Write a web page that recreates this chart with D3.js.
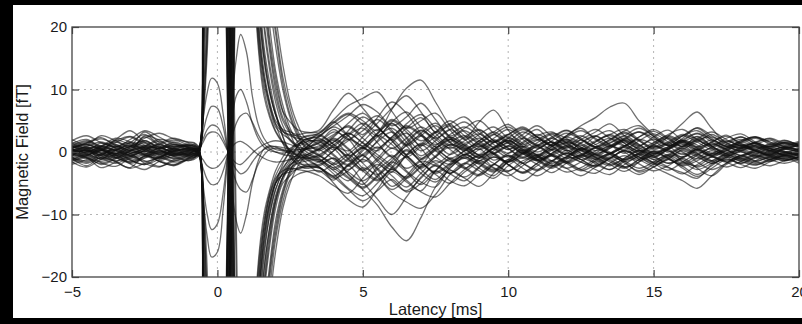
<!DOCTYPE html>
<html><head><meta charset="utf-8">
<script src="https://cdn.jsdelivr.net/npm/d3@7"></script>
<style>html,body{margin:0;padding:0;background:#000;overflow:hidden}svg{display:block}</style>
</head><body>
<svg id="chart" width="802" height="324"></svg>
<script>
// Latency samples (ms)
const latency = [-5,-4.5,-4,-3.5,-3,-2.5,-2,-1.5,-1,
  -0.8,-0.65,-0.5,-0.35,-0.2,0,0.2,0.35,0.5,0.65,0.8,1,1.2,1.4,1.6,1.8,2,2.25,2.5,2.75,3,
  3.5,4,4.5,5,5.5,6,6.5,7,7.5,8,8.5,9,9.5,10,10.5,11,11.5,12,12.5,13,13.5,14,14.5,15,15.5,16,16.5,17,17.5,18,18.5,19,19.5,20];

// Magnetic field per channel (fT)
const ch01 = [0.5,-0.8,0.3,1.2,0.2,1.8,0.4,-0.6,0.1,
  0.6,0.3,30,75,95,90,60,15,-35,-75,-85,-70,-38,-20,-12,-7,-4.5,-2.5,-1.2,-0.5,0.4,
  1.5,3.2,2.1,-0.5,1.8,4.5,2.2,-1.0,0.6,2.3,1.1,-0.4,1.5,2.4,0.8,-0.6,1.2,2.0,0.5,1.6,2.8,1.4,0.2,1.1,2.2,0.9,2.5,1.0,-0.3,0.8,1.4,0.3,0.9,0.2];
const ch02 = [-0.6,0.4,-1.2,-0.3,0.9,0.2,-1.0,0.5,-0.4,
  0.3,-0.2,12,40,75,85,65,40,5,-40,-75,-75,-50,-30,-19,-12,-7.5,-4,-2.6,-1.8,-1.5,
  -1.2,-2.5,-1.0,0.8,-1.5,-3.2,-0.4,1.2,-0.8,-2.0,-0.6,0.5,-1.3,-0.2,0.9,-0.5,-1.4,0.3,-0.8,-1.6,-0.2,0.7,-1.1,-0.5,0.4,-1.5,-2.2,-0.7,0.2,-0.9,-0.3,0.5,-0.6,-0.2];
const ch03 = [1.3,2.0,0.8,1.5,2.4,1.1,0.6,1.6,0.9,
  1.2,0.6,6,18,45,75,70,50,20,-20,-60,-80,-60,-40,-27,-18,-11,-6,-3,-1.2,0.5,
  2.0,0.6,-1.5,0.5,2.6,1.2,-0.8,0.9,3.1,4.5,2.2,4.8,6.7,3.5,1.2,2.4,1.0,-0.2,1.5,2.6,1.1,0.4,1.8,2.9,1.6,0.5,1.9,2.4,1.2,0.7,1.5,0.9,1.8,1.0];
const ch04 = [-1.5,-0.8,-2.0,-1.1,-0.3,-1.8,-2.4,-1.2,-0.7,
  -0.5,0.2,40,90,110,100,65,20,-40,-90,-100,-85,-45,-25,-14,-8,-5,-3.5,-2.8,-2.6,-2.4,
  -2.6,-4.2,-3.0,-1.2,-2.8,-5.5,-3.8,-1.5,-2.2,-3.4,-1.8,-0.6,-2.5,-3.1,-1.4,-0.8,-2.2,-1.5,-0.5,-1.9,-2.8,-1.2,-0.4,-1.7,-2.5,-3.3,-4.2,-2.0,-1.1,-1.8,-0.9,-1.5,-0.6,-1.0];
const ch05 = [0.2,1.1,0.5,-0.4,0.8,3.2,1.5,0.3,0.6,
  0.4,0.1,20,55,88,88,58,28,-18,-60,-85,-78,-48,-28,-17,-10,-6,-3.2,-1.4,0.8,2.0,
  2.5,4.8,6.2,5.0,3.4,6.8,10.2,11.5,8.0,4.2,2.0,3.5,1.8,0.4,2.2,3.6,1.5,0.6,2.0,3.2,4.5,2.6,1.0,2.4,3.5,1.8,0.8,1.6,2.7,1.2,0.4,1.3,0.6,1.1];
const ch06 = [-0.3,0.6,-0.5,0.9,-0.2,0.4,-0.8,0.2,-0.1,
  0.1,0.4,18,55,82,88,72,48,12,-38,-70,-82,-62,-44,-30,-20,-13,-7,-3.5,-1.6,-0.6,
  0.5,1.8,-0.5,-2.8,-1.0,1.5,3.0,0.6,-1.8,-0.4,1.2,-0.5,0.6,1.8,0.2,-1.2,0.3,1.5,0.7,-0.6,0.8,1.9,0.4,-0.8,0.5,1.6,0.2,-0.5,0.6,1.3,0.2,-0.4,0.5,0.1];
const ch07 = [0.9,0.2,1.4,0.6,-0.5,0.8,1.7,0.5,1.0,
  0.9,0.5,34,82,100,92,58,12,-42,-82,-92,-72,-36,-18,-10,-6,-3,-0.8,0.6,1.2,1.6,
  1.8,0.4,2.6,3.8,1.5,-0.8,1.6,3.5,2.0,0.6,1.8,2.9,1.2,-0.2,1.4,2.6,3.2,1.5,0.3,1.6,2.8,3.6,2.0,0.8,2.5,4.6,6.4,3.8,1.6,2.4,1.3,0.6,1.4,0.8];
const ch08 = [-1.0,-2.2,-0.9,-1.6,-2.5,-0.6,-1.4,-2.0,-1.1,
  -0.8,-0.3,9,28,60,80,62,34,-6,-50,-76,-78,-55,-35,-23,-15,-9,-5,-3.8,-2.6,-2.2,
  -2.0,-1.0,-3.5,-5.2,-2.4,-0.5,-3.0,-4.8,-5.6,-2.5,-1.0,-2.6,-3.8,-1.5,0.2,-1.2,-2.4,-1.0,0.4,-0.8,-2.0,-3.1,-1.6,0.1,-1.1,-2.3,-3.6,-2.2,-0.8,-1.5,-2.1,-1.2,-0.5,-1.3];
const ch09 = [0.6,1.5,2.3,1.0,0.2,2.6,1.9,0.8,1.2,
  1.0,0.8,28,72,96,92,50,6,-45,-80,-86,-74,-42,-24,-15,-9,-5,-2,0.2,1.6,2.5,
  3.0,5.2,7.4,8.6,9.6,6.5,3.8,5.0,6.2,3.5,1.4,2.8,4.0,2.2,0.8,1.9,3.0,2.2,1.0,2.5,3.4,1.8,0.6,1.5,2.8,3.6,2.0,1.1,2.2,2.9,1.6,0.8,1.5,1.2];
const ch10 = [0.0,-0.6,0.8,1.6,0.5,-0.3,0.7,1.3,0.4,
  0.5,0.2,15,45,80,90,68,36,0,-48,-80,-80,-54,-33,-21,-13,-8,-4.5,-2.2,-0.9,0.3,
  1.0,2.6,4.2,2.8,5.5,8.0,6.2,3.0,1.2,2.8,4.0,2.5,0.8,1.6,3.2,2.0,0.4,1.5,2.6,1.2,-0.2,1.0,2.4,3.6,2.2,0.8,1.6,2.8,1.5,0.5,1.2,1.9,0.8,0.4];
const ch11 = [-2.0,-1.2,-0.4,-1.5,-2.6,-1.8,-0.9,-1.6,-1.3,
  -1.2,-0.6,8,22,60,80,66,38,-8,-52,-70,-82,-65,-46,-32,-22,-14,-8,-4.5,-3.6,-3.2,
  -3.0,-4.5,-2.0,-0.5,-3.5,-6.0,-4.2,-2.0,-3.6,-5.0,-3.2,-1.5,-0.2,-2.0,-3.4,-2.2,-0.6,-1.8,-3.0,-2.0,-0.8,-1.6,-3.2,-2.4,-1.0,-0.2,-1.6,-2.8,-1.8,-0.6,-1.5,-2.2,-1.4,-0.8];
const ch12 = [0.4,-0.2,-1.0,0.3,1.0,-0.5,-0.9,0.0,0.6,
  0.3,0.0,32,78,98,92,54,10,-40,-78,-88,-72,-40,-22,-13,-8,-5,-3.6,-3.2,-2.8,-2.4,
  -2.5,-5.0,-7.6,-8.8,-6.0,-3.2,-4.8,-6.2,-3.0,-1.2,-2.6,-3.8,-2.0,-0.5,-1.8,-3.0,-1.6,-0.2,-1.2,-2.4,-1.0,0.2,-0.8,-2.0,-1.2,0.4,-0.6,-1.8,-0.9,0.0,-0.8,-0.2,-0.9,-0.4];
const ch13 = [1.6,0.8,0.2,1.9,1.2,0.6,1.4,2.2,1.5,
  1.4,0.9,24,66,96,96,70,42,8,-44,-90,-80,-44,-24,-14,-8.5,-5,-2.8,-0.8,0.9,2.0,
  2.2,1.0,3.4,5.6,4.0,2.2,4.5,6.0,3.8,1.6,0.4,1.8,3.2,4.4,2.6,1.2,2.4,3.5,2.2,0.8,1.5,2.6,3.8,2.5,1.0,2.2,3.9,2.6,1.4,0.6,1.5,2.1,1.2,1.7];
const ch14 = [-0.4,0.5,1.0,0.2,-0.7,0.3,0.9,-0.2,0.2,
  0.2,-0.4,-28,-70,-90,-85,-55,-15,35,72,84,66,36,19,11,7,4,2.8,2.0,1.0,-0.5,
  -1.5,0.2,2.0,0.8,-1.2,-2.8,-0.6,1.4,0.2,-1.5,-0.4,1.0,-0.3,-1.6,-0.2,1.1,0.3,-1.0,-0.5,0.8,0.0,-1.2,-0.4,0.9,0.2,-0.8,0.5,1.4,0.4,-0.5,0.3,0.9,0.1,-0.3];
const ch15 = [1.0,1.8,0.9,0.4,1.5,2.8,1.2,0.6,1.1,
  0.9,0.4,-10,-36,-70,-86,-66,-42,-4,44,78,78,56,36,24,16,10,5.5,3.4,2.4,1.6,
  0.2,1.6,3.0,1.5,0.2,2.4,4.0,2.6,0.8,2.0,3.4,1.8,0.5,2.2,3.6,2.4,1.0,2.6,4.2,5.5,7.2,7.8,5.0,2.8,1.4,2.6,3.8,2.2,0.9,1.8,2.4,1.2,0.7,1.4];
const ch16 = [-0.8,-1.6,-0.5,0.3,-1.2,-2.0,-0.8,-0.2,-0.6,
  -0.6,-0.2,-34,-80,-98,-90,-58,-12,40,80,90,70,38,20,12,7.5,4.5,1.4,-0.8,-2.0,-2.6,
  -2.5,-4.0,-2.2,-4.8,-7.5,-10.0,-7.2,-4.0,-2.2,-3.5,-4.6,-2.5,-0.8,-2.0,-3.3,-1.8,-0.4,-1.5,-2.8,-3.4,-1.8,-0.6,-1.9,-3.0,-2.2,-1.0,-2.6,-3.8,-2.0,-1.0,-1.6,-0.8,-1.4,-0.9];
const ch17 = [0.3,-0.5,0.4,-0.9,0.1,0.7,-0.3,0.6,0.0,
  0.1,0.3,-16,-50,-78,-84,-66,-36,10,54,72,84,72,54,38,26,20,12,7,3.5,1.6,
  0.4,2.2,0.6,-1.6,0.3,2.0,-0.5,-2.4,-0.8,1.2,0.4,-0.9,0.8,1.9,0.5,-0.6,0.9,2.0,1.2,-0.2,0.6,1.6,0.3,-0.9,0.4,1.3,-0.2,-1.4,-0.2,0.7,0.2,-0.5,0.4,0.0];
const ch18 = [-1.2,-0.5,-1.7,-2.3,-1.0,-0.4,-1.5,-2.1,-1.0,
  -0.9,-0.5,-25,-66,-88,-86,-50,-8,38,74,82,72,46,28,17,11,6.5,2.5,0.0,-1.4,-2.2,
  -2.2,-1.0,-3.6,-6.0,-8.5,-12.0,-14.2,-10.5,-5.6,-3.0,-4.2,-5.5,-3.4,-1.2,-2.6,-3.8,-2.4,-0.8,-1.6,-2.8,-3.6,-2.0,-0.8,-1.8,-2.9,-1.6,-0.4,-1.4,-2.4,-1.5,-0.6,-1.2,-1.8,-1.1];
const ch19 = [0.7,1.4,2.1,1.2,0.3,1.0,2.0,1.5,0.8,
  0.6,0.2,-7,-25,-58,-82,-64,-38,0,50,82,68,40,24,15,9.5,6,3.4,2.6,2.2,2.0,
  1.8,3.6,2.0,4.2,5.8,3.5,1.2,3.0,4.6,2.4,0.6,1.8,3.2,1.6,0.2,1.5,2.8,1.4,0.3,1.2,2.2,1.0,-0.2,1.4,2.6,1.5,0.4,1.6,2.5,1.4,0.6,1.2,1.9,1.0];
const ch20 = [-0.2,0.3,-0.6,-1.4,-0.7,0.2,-0.4,-1.0,-0.5,
  -0.4,0.0,-20,-56,-82,-86,-70,-46,-12,36,70,80,62,42,29,20,13,7.5,3.8,1.6,0.2,
  -1.0,-2.8,-1.2,0.6,-0.8,-2.5,-4.0,-2.2,0.2,-1.2,-2.6,-1.0,0.5,-0.6,-1.8,-0.9,0.4,-0.5,-1.6,-2.2,-1.0,0.2,-1.2,-2.4,-3.5,-4.6,-5.8,-3.8,-1.8,-0.6,-1.4,-0.8,-0.2,-0.7];
const ch21 = [0.5,0.0,0.9,2.0,3.4,1.6,0.5,1.1,0.7,
  0.5,0.1,-32,-78,-96,-88,-56,-14,36,74,84,68,40,22,13,8,5,3.6,3.2,2.8,3.0,
  3.5,6.8,9.4,7.0,4.2,2.0,3.8,5.5,3.0,1.0,2.4,3.6,1.8,0.4,1.6,2.8,1.6,0.2,1.4,2.5,1.2,-0.2,0.9,2.0,1.0,-0.4,0.8,1.9,0.9,0.2,1.0,0.5,-0.1,0.6];
const ch22 = [-0.9,-0.2,0.5,-0.4,-1.3,-0.7,0.2,-0.5,-0.3,
  -0.2,0.2,-13,-42,-76,-86,-62,-30,14,56,80,74,50,32,20,13,8,4.2,2,0.7,-0.2,
  -0.8,0.8,-1.0,-3.0,-4.6,-2.4,0.4,-1.6,-3.2,-1.8,0.2,1.2,-0.4,-1.5,-0.2,1.0,-0.6,-1.8,-0.8,0.6,-0.4,-1.5,-0.6,0.7,1.2,0.0,-1.1,-0.3,0.8,0.1,-0.6,0.2,0.7,0.2];
const ch23 = [1.2,0.5,-0.2,0.8,1.6,0.9,0.0,0.7,1.3,
  1.1,0.6,-26,-68,-90,-86,-56,-18,32,70,82,70,43,25,15,9.5,6,3.4,1.8,1.0,1.4,
  2.8,1.2,0.2,2.4,4.6,7.0,9.0,6.4,3.2,4.5,5.6,3.4,1.5,2.8,4.0,2.4,1.0,2.6,3.8,2.0,0.8,2.2,3.2,1.8,0.6,1.8,2.9,1.6,0.5,1.5,2.2,1.4,0.6,1.2];
const ch24 = [-1.6,-2.4,-1.2,-0.5,-1.9,-2.8,-1.5,-0.8,-1.4,
  -1.0,-0.4,-36,-84,-102,-94,-60,-16,38,82,92,70,36,18,10,6,3.4,1.6,0.4,-0.6,-1.5,
  -3.2,-1.8,-0.4,-2.6,-4.4,-2.8,-4.5,-6.4,-7.2,-5.0,-2.8,-1.4,-2.6,-3.8,-2.2,-0.8,-2.0,-3.2,-2.5,-1.2,-0.4,-1.8,-3.0,-2.0,-0.6,-1.6,-2.8,-1.8,-0.5,-1.2,-2.0,-1.4,-0.7,-1.5];
const ch25 = [0.0,0.8,0.3,-0.6,0.2,1.0,0.4,-0.4,0.3,
  0.4,0.6,-6,-19,-55,-80,-70,-44,-8,40,70,84,74,58,42,30,22,14,8,4.5,2.4,
  1.2,-0.6,-2.2,-0.4,1.6,3.2,1.0,-1.2,0.4,2.0,0.8,-0.8,0.6,2.2,1.0,-0.4,0.8,1.8,0.4,-0.8,0.6,1.8,0.7,-0.6,0.4,1.6,2.4,0.9,-0.3,0.5,1.0,0.2,-0.4,0.3];
const ch26 = [2.0,1.2,2.6,1.8,0.9,2.2,3.0,2.1,1.6,
  1.5,0.8,-18,-54,-80,-86,-62,-28,20,60,78,78,58,38,26,17,11,6.5,4.8,3.6,3.2,
  3.2,4.8,2.6,0.6,2.8,5.0,3.2,1.0,2.5,4.2,2.6,0.8,2.2,3.6,2.0,0.6,1.8,3.0,2.0,0.8,2.0,3.4,4.2,2.5,1.2,2.6,3.4,1.9,0.8,1.6,2.4,1.6,0.9,1.5];
const ch27 = [0.8,1.6,0.6,-0.2,0.9,1.8,0.7,0.2,0.5,
  0.3,0.2,5,9.5,11.8,11,6,0.5,-6,-11,-13,-10,-5,-1.5,0.5,1.0,0.8,0.4,0.2,0.0,0.3,
  1.6,-0.4,-2.0,0.2,2.4,3.8,1.6,-0.6,1.0,2.4,1.0,-0.5,0.6,1.8,0.4,-0.8,0.5,1.6,0.8,-0.4,0.9,2.0,1.0,-0.3,0.6,1.8,0.8,-0.4,0.4,1.2,0.4,-0.2,0.6,0.3];
const ch28 = [-0.5,0.2,-0.9,-1.8,-0.8,0.1,-0.6,-1.4,-0.6,
  -0.2,0.0,3,5.8,7.3,7,4,0.3,-2.5,-4.8,-6,-6.4,-4.5,-2.0,-0.5,0.4,0.6,0.3,0.0,-0.3,-0.6,
  -1.4,-3.0,-4.6,-2.5,-4.0,-6.5,-8.0,-9.0,-6.8,-3.6,-1.8,-3.0,-4.2,-2.2,-0.9,-2.0,-3.3,-1.8,-0.5,-1.6,-2.8,-1.5,-0.3,-1.2,-2.4,-3.5,-2.0,-0.8,-1.6,-2.5,-1.4,-0.6,-1.2,-0.8];
const ch29 = [-1.2,-0.4,0.3,-0.6,-1.6,-0.9,0.0,-0.7,-0.4,
  0.1,-0.2,-5,-10,-12.4,-11.5,-6.5,-0.5,5,9,10,8,4.6,2.2,0.8,0.2,0.0,-0.2,0.1,0.3,0.5,
  0.8,2.4,4.6,6.2,4.0,1.8,-0.4,1.2,3.2,1.5,-0.4,0.8,2.0,0.6,-1.0,0.4,1.6,0.2,-1.2,-0.2,1.0,0.0,-1.4,-0.4,0.8,1.8,0.6,-0.8,0.2,1.0,0.2,-0.6,0.0,-0.4];
const ch30 = [0.4,-0.3,-1.1,0.2,0.8,-0.1,-0.7,0.4,0.2,
  -0.3,-0.4,-7,-13.5,-16.8,-16,-9,-1,8,15,18.8,16,9,4.5,2.2,1.0,0.4,0.2,-0.2,-0.5,-0.8,
  -1.6,-3.5,-5.8,-7.0,-5.0,-2.6,-0.8,-2.8,-4.4,-2.2,-0.4,-1.8,-3.0,-1.5,0.0,-1.2,-2.2,-0.8,0.6,-0.4,-1.6,-2.6,-1.2,0.2,-0.6,-1.8,-0.5,0.6,-0.3,-1.2,-0.4,0.3,-0.5,-0.2];
const ch31 = [1.8,2.6,1.5,0.8,2.0,3.4,2.4,1.2,1.0,
  0.6,0.5,2,3.6,4.3,4,2.2,0.4,-1.4,-2.8,-3.5,-3.0,-1.6,-0.4,0.4,0.8,0.9,0.7,0.5,0.4,0.6,
  2.6,4.2,5.8,7.6,6.4,4.2,5.6,7.8,5.2,2.6,3.8,5.0,3.0,1.5,2.8,4.2,2.5,1.2,2.4,3.6,2.2,1.0,2.4,3.3,2.0,0.9,2.1,3.2,2.0,1.0,1.6,2.2,1.4,0.9];
const ch32 = [-1.8,-1.0,-2.5,-1.6,-0.6,-1.4,-2.3,-1.5,-1.0,
  -0.5,-0.6,-2.5,-4.4,-5.2,-5,-3,-0.4,2.4,4.6,5.8,6.2,4.8,2.8,1.3,0.5,0.0,-0.4,-0.6,-0.8,-0.9,
  -2.4,-4.0,-6.0,-7.8,-6.2,-4.4,-6.4,-5.0,-3.0,-4.6,-5.4,-3.6,-2.0,-3.4,-4.6,-3.0,-1.4,-2.6,-3.8,-2.4,-1.0,-2.4,-3.6,-2.4,-1.2,-2.6,-3.9,-2.6,-1.2,-2.0,-2.6,-1.6,-1.0,-1.8];
const ch33 = [0.2,0.9,1.6,0.7,-0.2,0.5,1.2,0.4,0.3,
  0.4,0.2,6,20,55,88,64,30,-14,-58,-82,-84,-58,-36,-22,-14,-8,-4,-1.8,-0.4,0.6,
  1.4,2.8,4.0,2.2,0.6,2.4,4.2,2.8,0.4,1.6,2.6,1.2,-0.2,1.0,2.2,1.0,-0.4,0.8,1.9,0.8,-0.2,0.9,2.0,1.2,0.0,1.0,2.1,0.9,-0.1,0.6,1.4,0.6,0.0,0.5];
const ch34 = [-0.9,-1.4,-0.3,0.4,-0.6,-1.5,-0.9,0.1,-0.5,
  -0.3,-0.1,26,68,94,94,60,22,-28,-70,-90,-78,-46,-27,-16,-10,-6,-3.4,-2.0,-1.4,-1.2,
  -0.6,0.8,-1.2,-3.0,-1.4,0.6,-1.0,-3.4,-4.8,-2.6,-0.8,-2.0,-3.2,-1.6,-0.2,-1.4,-2.6,-1.2,0.2,-0.9,-2.0,-1.0,0.3,-0.6,-1.8,-1.0,0.4,-0.7,-1.6,-0.8,0.0,-0.8,-1.4,-0.7];
const ch35 = [1.0,0.3,-0.4,0.6,1.4,0.7,-0.1,0.9,0.8,
  0.7,0.4,5,16,40,70,72,56,30,-12,-52,-82,-68,-48,-34,-24,-16,-9,-5,-2.4,-0.8,
  0.6,2.0,0.4,-1.8,-3.6,-1.4,1.2,3.4,1.6,-0.4,1.0,2.2,0.6,-0.8,0.8,2.0,0.9,-0.5,0.6,1.8,2.6,1.4,0.0,1.2,2.4,1.2,-0.2,0.8,1.8,0.9,0.2,1.0,1.5,0.6];
const ch36 = [-0.4,-1.0,-1.8,-0.9,0.0,-0.6,-1.5,-2.2,-1.2,
  -0.9,-0.5,38,86,106,98,60,14,-40,-86,-96,-82,-42,-22,-12,-7,-4.2,-3.0,-2.6,-2.8,-3.0,
  -3.8,-5.4,-6.6,-4.2,-2.0,-3.8,-5.6,-3.4,-1.4,-2.8,-4.0,-2.4,-0.8,-2.0,-3.2,-1.8,-0.6,-1.6,-2.8,-1.4,-0.2,-1.4,-2.6,-1.6,-0.4,-1.2,-2.4,-1.4,-0.4,-1.0,-1.8,-1.2,-0.6,-1.2];
const ch37 = [0.6,1.3,0.5,1.8,2.5,1.4,0.6,1.2,0.7,
  0.5,0.3,12,36,70,86,66,36,-4,-50,-78,-82,-60,-42,-28,-19,-12,-6.5,-3,-0.6,1.0,
  2.4,4.0,2.6,1.0,3.0,5.2,3.6,1.8,3.2,5.0,3.2,1.6,2.8,4.0,2.4,1.0,2.2,3.4,2.0,0.8,1.8,3.0,1.8,0.6,1.6,2.8,2.0,0.8,1.6,2.4,1.4,0.8,1.6,1.1];
const ch38 = [-1.4,-0.6,0.2,-0.8,-1.8,-1.0,-0.2,-1.1,-0.9,
  -0.6,-0.2,22,62,90,92,62,26,-22,-66,-86,-80,-52,-31,-19,-12,-7,-4,-2.2,-1.0,-0.4,
  -1.2,-2.6,-4.2,-5.8,-4.0,-1.8,0.2,-1.6,-3.4,-2.0,-0.4,-1.6,-2.8,-1.2,0.4,-0.6,-1.8,-0.8,0.6,-0.4,-1.4,-2.4,-1.2,0.0,-0.9,-2.0,-1.0,0.2,-0.6,-1.4,-0.8,0.0,-0.6,-0.3];
const ch39 = [0.3,-0.4,0.2,1.0,0.4,2.4,1.0,-0.2,0.1,
  0.2,0.0,36,84,102,94,56,8,-46,-84,-94,-74,-38,-19,-11,-6.5,-3.8,-1.6,0.0,1.2,1.8,
  2.6,1.2,-0.6,0.8,3.0,4.6,2.4,0.2,1.8,3.6,2.0,0.4,1.6,2.8,1.4,0.0,1.2,2.4,1.4,0.2,1.0,2.2,1.2,0.0,0.8,1.9,1.1,-0.2,0.6,1.6,0.8,0.0,0.6,1.0];
const ch40 = [0.5,1.2,0.4,-0.3,0.6,1.5,0.8,0.0,0.4,
  0.3,0.0,-8,-24,-60,-88,-60,-26,22,64,82,76,52,33,21,14,9,5,3.0,1.8,1.2,
  0.4,-1.2,-2.8,-1.0,0.8,-0.8,-2.6,-1.2,0.6,2.0,0.6,-1.0,0.2,1.4,0.0,-1.2,-0.2,1.0,0.2,-1.0,-0.2,1.0,0.0,-1.2,-0.4,0.8,1.8,0.6,-0.6,0.2,0.8,0.2,-0.4,0.1];
const ch41 = [-0.7,0.0,0.6,-0.2,-1.0,-0.4,0.5,0.0,-0.3,
  -0.2,0.1,-9,-30,-64,-84,-66,-40,-2,46,76,82,64,46,33,24,17,10,5.5,2.6,0.8,
  -0.6,-2.0,-0.4,1.6,3.6,1.8,-0.6,-2.6,-0.8,0.8,-0.6,-1.8,-0.4,0.9,-0.3,-1.4,-0.2,1.0,-0.2,-1.2,-0.4,0.8,-0.4,-1.6,-0.6,0.6,-0.4,-1.5,-0.6,0.4,-0.3,-1.0,-0.2,-0.6];
const ch42 = [1.4,0.6,1.0,2.2,1.6,0.4,1.2,1.9,1.1,
  0.8,0.3,-30,-76,-96,-90,-56,-12,40,78,86,68,38,21,12,7.5,4.5,3.2,2.8,2.6,2.4,
  3.0,4.6,6.0,4.4,2.6,4.8,6.4,4.0,2.2,3.6,4.8,3.0,1.6,2.8,3.8,2.4,1.2,2.4,3.4,2.2,1.0,2.0,3.2,2.2,1.0,2.0,3.0,2.0,1.0,1.8,2.4,1.6,1.0,1.5];
const ch43 = [-1.1,-1.8,-0.8,-0.2,-1.3,-2.0,-1.2,-0.4,-0.8,
  -0.7,-0.3,-18,-52,-82,-88,-64,-32,16,60,80,80,60,40,27,18,12,6.5,3.0,0.4,-1.0,
  -2.4,-3.8,-2.2,-0.6,-2.6,-4.6,-6.2,-4.2,-2.0,-3.4,-2.0,-0.6,-1.8,-3.0,-1.8,-0.4,-1.4,-2.6,-1.6,-0.4,-1.2,-2.4,-1.6,-0.2,-1.0,-2.2,-1.4,-0.2,-0.8,-1.8,-1.0,-0.4,-1.2,-0.8];
const ch44 = [0.0,0.7,-0.2,-1.0,-0.3,0.8,0.2,-0.6,-0.1,
  0.1,0.2,-36,-82,-100,-92,-58,-10,42,82,88,66,34,17,9,5.5,3.2,1.4,0.2,-0.6,-1.0,
  -0.4,1.2,2.8,4.6,2.6,0.6,2.2,4.0,2.4,0.4,-1.0,0.4,1.8,0.6,-0.8,0.4,1.6,0.4,-0.8,0.2,1.4,2.6,1.2,-0.2,0.6,1.6,0.4,-0.6,0.2,1.0,0.2,-0.4,0.4,0.0];
const ch45 = [0.9,0.1,-0.6,0.3,1.1,0.5,-0.4,0.2,0.6,
  0.5,0.3,-14,-44,-76,-86,-68,-44,-6,42,74,84,70,52,37,26,19,11,6,3.0,1.0,
  -0.4,-2.2,-4.0,-5.6,-3.8,-1.6,-3.2,-5.2,-3.0,-1.0,-2.4,-3.6,-2.0,-0.6,-1.8,-2.8,-1.4,-0.2,-1.2,-2.2,-1.0,0.2,-0.8,-1.8,-0.8,0.2,-0.8,-1.8,-0.8,0.2,-0.6,-1.2,-0.4,-0.2];
const ch46 = [-0.2,-0.9,-1.5,-0.6,0.2,-0.3,-1.1,-0.4,-0.2,
  -0.1,-0.2,-26,-70,-92,-88,-56,-18,32,72,84,72,44,26,16,10,6,2.4,-0.4,-1.8,-2.0,
  -1.6,0.2,1.8,3.4,5.2,3.2,1.0,2.6,4.2,2.2,0.2,1.4,2.8,1.4,-0.2,1.0,2.2,1.0,-0.4,0.8,2.0,3.2,1.8,0.4,1.4,2.6,1.6,0.4,1.2,2.0,1.0,0.2,0.8,0.4];
const ch47 = [0.3,0.0,0.8,0.2,-0.5,0.1,0.6,0.9,0.4,
  0.3,0.4,1.5,2.8,3.2,3.0,1.6,0.2,-1.0,-1.8,-2.0,-1.2,-0.2,0.6,1.2,1.6,1.8,1.6,1.2,0.8,0.5,
  -0.6,-1.8,-3.2,-4.6,-2.8,-1.0,1.0,2.6,0.8,-1.0,0.2,1.4,-0.2,-1.6,-0.4,0.8,-0.4,-1.6,-0.6,0.6,-0.2,-1.2,-0.2,1.0,0.2,-0.8,0.2,1.2,0.4,-0.6,0.0,0.6,0.0,-0.4];
const ch48 = [-0.6,0.3,-0.1,-0.9,-1.6,-0.7,0.2,-0.3,-0.5,
  -0.4,-0.5,-1.2,-2.2,-2.6,-2.4,-1.3,-0.2,0.8,1.5,1.7,1.2,0.4,-0.4,-1.0,-1.4,-1.6,-1.5,-1.2,-1.0,-0.9,
  0.4,1.6,3.0,1.4,-0.4,-2.2,-4.2,-2.4,-0.6,1.2,0.0,-1.4,-0.2,1.0,-0.2,-1.4,-0.4,0.8,-0.2,-1.2,-2.2,-1.0,0.2,-0.8,-1.8,-0.8,0.4,-0.6,-1.4,-0.6,0.2,-0.6,-1.0,-0.5];

const channels = [ch01,ch02,ch03,ch04,ch05,ch06,ch07,ch08,ch09,ch10,ch11,ch12,ch13,ch14,ch15,ch16,
  ch17,ch18,ch19,ch20,ch21,ch22,ch23,ch24,ch25,ch26,ch27,ch28,ch29,ch30,ch31,ch32,
  ch33,ch34,ch35,ch36,ch37,ch38,ch39,ch40,ch41,ch42,ch43,ch44,ch45,ch46,ch47,ch48];

const xTicks = [-5,0,5,10,15,20];
const yTicks = [-20,-10,0,10,20];
const xLabel = "Latency [ms]";
const yLabel = "Magnetic Field [fT]";

const svg = d3.select("#chart");
svg.append("rect").attr("x",13).attr("y",5).attr("width",789).attr("height",313).attr("fill","#fff");

const L = 72, R = 799, T = 27, B = 277;
const x = d3.scaleLinear().domain([-5,20]).range([L,R]);
const y = d3.scaleLinear().domain([-20,20]).range([B,T]);

// grid
const grid = svg.append("g").attr("stroke","#b4b4b4").attr("stroke-width",1).attr("stroke-dasharray","2,4");
xTicks.slice(1,-1).forEach(v=>grid.append("line").attr("x1",x(v)).attr("x2",x(v)).attr("y1",T).attr("y2",B));
yTicks.slice(1,-1).forEach(v=>grid.append("line").attr("y1",y(v)).attr("y2",y(v)).attr("x1",L).attr("x2",R));

// traces
svg.append("clipPath").attr("id","plotclip").append("rect").attr("x",L).attr("y",T).attr("width",R-L).attr("height",B-T);
const line = d3.line().x((d,i)=>x(latency[i])).y(d=>y(d)).curve(d3.curveCatmullRom.alpha(0.5));
svg.append("g").attr("clip-path","url(#plotclip)")
  .selectAll("path").data(channels).join("path")
  .attr("d",line).attr("fill","none").attr("stroke","#111").attr("stroke-opacity",0.6).attr("stroke-width",1.3);

// axes
const font = "'Liberation Sans', Arial, Helvetica, sans-serif";
const ax = (g)=>{g.select(".domain").remove(); g.selectAll("line").attr("stroke","#444").attr("stroke-width",1.2);
  g.selectAll("text").attr("font-family",font).attr("font-size",15).attr("fill","#1a1a1a");};
svg.append("g").attr("transform",`translate(0,${B})`).call(d3.axisBottom(x).tickValues(xTicks).tickSize(-7).tickPadding(9)).call(ax);
svg.append("g").attr("transform",`translate(0,${T})`).call(d3.axisTop(x).tickValues(xTicks).tickSize(-7).tickFormat("")).call(ax);
svg.append("g").attr("transform",`translate(${L},0)`).call(d3.axisLeft(y).tickValues(yTicks).tickSize(-7).tickPadding(5)).call(ax);
svg.append("g").attr("transform",`translate(${R},0)`).call(d3.axisRight(y).tickValues(yTicks).tickSize(-7).tickFormat("")).call(ax);
svg.append("rect").attr("x",L).attr("y",T).attr("width",R-L).attr("height",B-T).attr("fill","none").attr("stroke","#444").attr("stroke-width",1.3);

svg.append("text").attr("x",(L+R)/2).attr("y",315).attr("text-anchor","middle")
  .attr("font-family",font).attr("font-size",16.5).attr("fill","#1a1a1a").text(xLabel);
svg.append("text").attr("transform",`translate(28,${(T+B)/2}) rotate(-90)`).attr("text-anchor","middle")
  .attr("font-family",font).attr("font-size",16.5).attr("fill","#1a1a1a").text(yLabel);
</script>
</body></html>
